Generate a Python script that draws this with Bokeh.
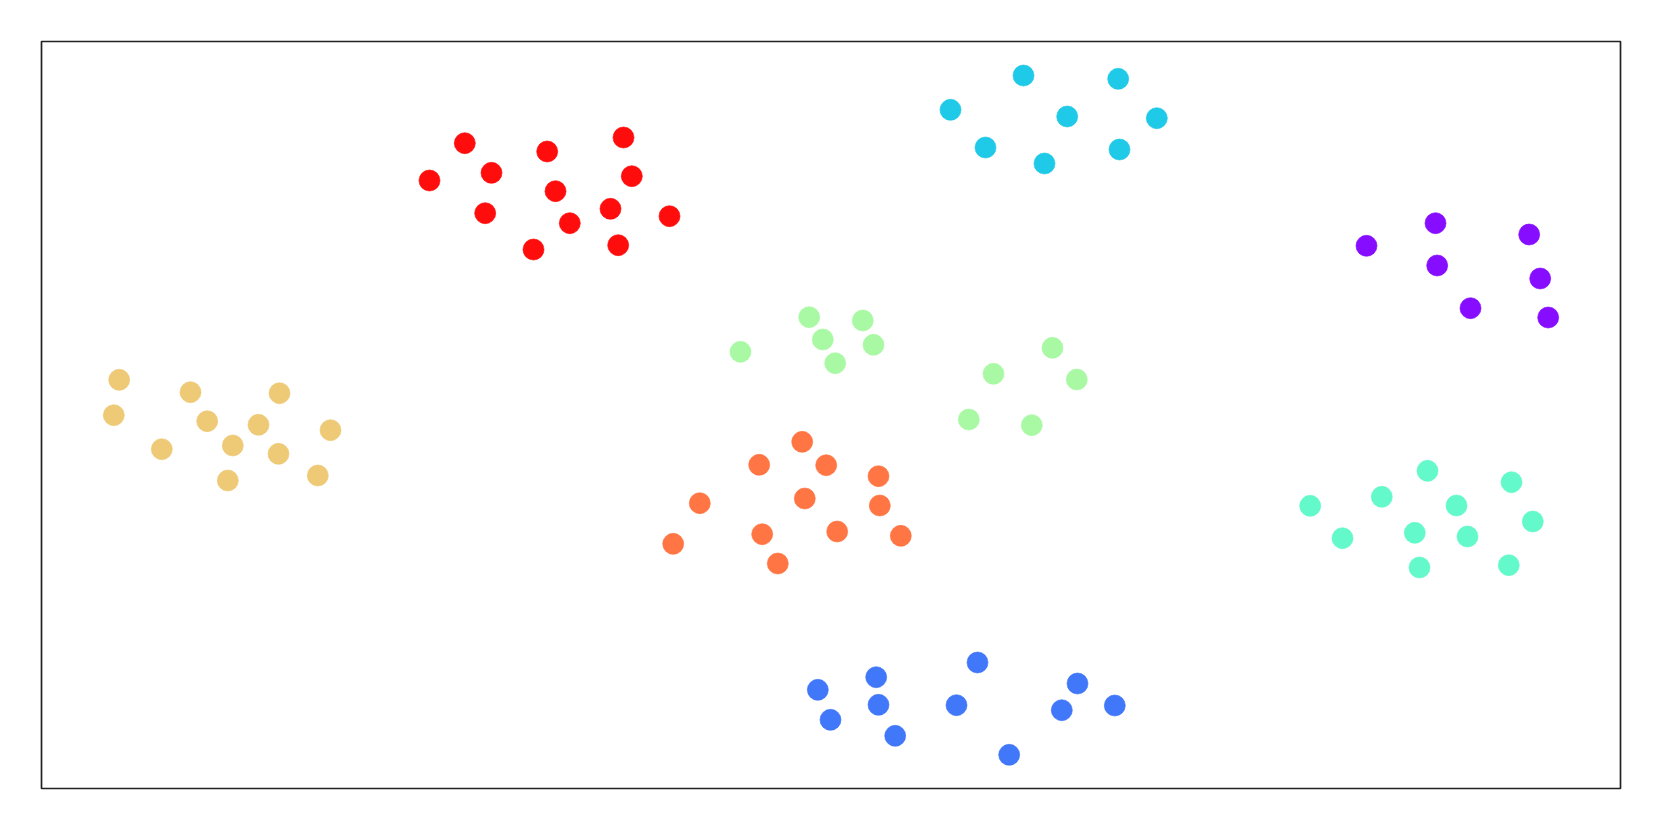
from bokeh.plotting import figure
from bokeh.models import Range1d, ColumnDataSource
from bokeh.embed import file_html
from bokeh.resources import INLINE

# Cluster points (x, y) in chart units; origin at lower-left of the frame
red_x = [423.3, 388.0, 450.0, 443.7, 505.7, 514.0, 528.3, 492.0, 582.0, 590.3, 569.0, 628.0, 576.7]
red_y = [645.3, 608.0, 615.7, 575.3, 637.0, 597.3, 565.3, 539.0, 651.0, 612.3, 579.7, 572.3, 543.3]

cyan_x = [982.0, 909.0, 944.0, 1003.0, 1025.7, 1076.7, 1115.3, 1078.0]
cyan_y = [713.0, 678.7, 641.0, 625.0, 672.0, 709.7, 670.3, 639.0]

yellow_x = [77.7, 72.3, 149.0, 120.3, 165.7, 191.3, 186.3, 217.0, 238.0, 237.0, 289.0, 276.3]
yellow_y = [408.7, 373.3, 396.3, 339.3, 367.3, 343.0, 308.0, 363.7, 395.3, 334.7, 358.3, 313.0]

purple_x = [1394.0, 1325.0, 1395.7, 1487.7, 1498.7, 1429.0, 1506.7]
purple_y = [565.3, 542.7, 523.0, 554.0, 510.0, 480.3, 471.0]

green_x = [767.7, 821.3, 781.3, 832.0, 699.0, 793.7, 1011.0, 952.0, 1035.3, 927.3, 990.3]
green_y = [471.3, 468.0, 449.0, 443.7, 436.7, 425.3, 440.7, 414.7, 409.0, 369.0, 363.3]

orange_x = [760.7, 717.7, 784.7, 837.0, 658.3, 763.3, 838.3, 631.7, 720.7, 795.7, 859.3, 736.3]
orange_y = [346.7, 323.7, 323.3, 312.3, 285.3, 290.0, 283.0, 244.7, 254.3, 257.0, 252.7, 225.0]

teal_x = [1386.0, 1470.0, 1268.7, 1340.3, 1415.0, 1491.3, 1301.0, 1373.3, 1426.0, 1378.0, 1467.3]
teal_y = [317.7, 306.3, 282.7, 291.7, 283.0, 267.0, 250.3, 255.7, 252.0, 221.0, 223.3]

blue_x = [936.0, 834.7, 776.3, 1036.0, 837.0, 915.0, 789.0, 1020.3, 1073.3, 853.7, 967.7]
blue_y = [126.0, 111.3, 98.7, 105.0, 83.7, 83.3, 68.7, 78.3, 83.0, 52.7, 33.7]

clusters = [
    (purple_x, purple_y, "#8000FF"),
    (blue_x, blue_y, "#3770F9"),
    (cyan_x, cyan_y, "#12C7E6"),
    (teal_x, teal_y, "#5BF9C7"),
    (green_x, green_y, "#A4F99F"),
    (yellow_x, yellow_y, "#EDC76F"),
    (orange_x, orange_y, "#FF6E39"),
    (red_x, red_y, "#FF0000"),
]

p = figure(width=1655, height=826, output_backend="svg", toolbar_location=None,
           x_axis_location=None, y_axis_location=None,
           x_range=Range1d(0, 1579), y_range=Range1d(0, 747),
           min_border_left=41, min_border_right=35, min_border_top=41, min_border_bottom=38)
p.grid.visible = False
p.outline_line_color = "#222222"
p.outline_line_width = 1.7
p.background_fill_color = "white"
p.border_fill_color = "white"

for xs, ys, c in clusters:
    src = ColumnDataSource(dict(x=xs, y=ys))
    p.scatter("x", "y", source=src, size=21, fill_color=c, line_color=c,
              fill_alpha=0.95, line_alpha=0.6, line_width=1)

open("out.html", "w").write(file_html(p, INLINE))
